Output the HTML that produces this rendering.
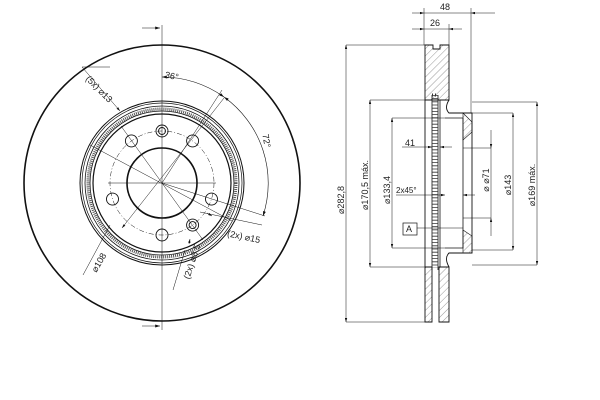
<!DOCTYPE html>
<html><head><meta charset="utf-8"><style>
html,body{margin:0;padding:0;background:#fff;width:600px;height:400px;overflow:hidden}
svg text{font-family:"Liberation Sans",sans-serif;fill:#222}
</style></head><body>
<svg width="600" height="400" viewBox="0 0 600 400" xmlns="http://www.w3.org/2000/svg">
<defs>
<pattern id="h" patternUnits="userSpaceOnUse" width="5" height="5" patternTransform="rotate(45)">
<line x1="0" y1="0" x2="0" y2="5" stroke="#555" stroke-width="0.6"/></pattern>
<marker id="a" viewBox="0 0 10 6" refX="10" refY="3" markerWidth="8" markerHeight="5" orient="auto-start-reverse"><path d="M0,0L10,3L0,6z" fill="#111"/></marker>
</defs>
<g fill="none" stroke="#111">
<!-- left disc -->
<circle cx="162" cy="183" r="138" stroke-width="1.6"/>
<circle cx="162" cy="183" r="82" stroke-width="1"/>
<circle cx="162" cy="183" r="80" stroke-width="0.7"/>
<circle cx="162" cy="183" r="77" stroke-width="0.8"/>
<circle cx="162" cy="183" r="74" stroke-width="3" stroke="#555" stroke-dasharray="1 1"/>
<circle cx="162" cy="183" r="72" stroke-width="0.8"/>
<circle cx="162" cy="183" r="69" stroke-width="1.2"/>
<circle cx="162" cy="183" r="35" stroke-width="1.6"/>
<circle cx="162" cy="183" r="52" stroke-width="0.5" stroke-dasharray="5 2 1 2"/>
<!-- bolt holes -->
<g stroke-width="0.9">
<circle cx="192.6" cy="140.9" r="6"/><circle cx="211.5" cy="199.1" r="6"/>
<circle cx="162" cy="235" r="6"/><circle cx="112.5" cy="199.1" r="6"/>
<circle cx="131.4" cy="140.9" r="6"/>
<circle cx="162" cy="131" r="6"/><circle cx="162" cy="131" r="3.5"/>
<circle cx="192.6" cy="225.1" r="6"/><circle cx="192.6" cy="225.1" r="3.5"/>
</g>
<!-- center lines -->
<g stroke-width="0.5">
<line x1="162" y1="25" x2="162" y2="330"/>
<line x1="108" y1="183" x2="216" y2="183"/>
<line x1="224" y1="98" x2="122" y2="228" marker-end="url(#a)"/>
<line x1="90" y1="145" x2="232" y2="221"/>
<line x1="162" y1="183" x2="265" y2="216"/>
<line x1="121" y1="126" x2="203" y2="240"/>
<line x1="82" y1="67" x2="110" y2="67"/>
<line x1="82" y1="67" x2="120" y2="111" marker-end="url(#a)"/>
<line x1="162" y1="183" x2="222" y2="90"/>
<line x1="200" y1="212" x2="262" y2="225"/>
<line x1="207" y1="213" x2="212" y2="216" marker-end="url(#a)"/>
<line x1="185" y1="250" x2="173" y2="290"/>
<line x1="190" y1="239" x2="189" y2="244" marker-start="url(#a)"/>
<line x1="110" y1="225" x2="83" y2="275"/>
</g>
<path d="M162 77 A106 106 0 0 1 224 97" stroke-width="0.6" marker-start="url(#a)" marker-end="url(#a)"/>
<path d="M224 97 A106 106 0 0 1 263 216" stroke-width="0.6" marker-start="url(#a)" marker-end="url(#a)"/>
<line x1="142" y1="28" x2="160" y2="28" stroke-width="0.6" marker-end="url(#a)"/>
<line x1="142" y1="326" x2="160" y2="326" stroke-width="0.6" marker-end="url(#a)"/>

<!-- section -->
<path d="M425 45 H433 V49 H440 V45 H449 V100 H425 Z" fill="url(#h)" stroke-width="0.9"/>
<path d="M425 267 H432 V322 H425 Z" fill="url(#h)" stroke-width="0.9"/>
<path d="M439 267 H449 V322 H439 Z" fill="url(#h)" stroke-width="0.9"/>
<path d="M449 100 Q444 108 449 113 H472 V253 H449 Q444 258 449 267" stroke-width="0.9"/>
<path d="M445 118 H463 V248 H445" stroke-width="0.8"/>
<path d="M463 113 L472 122 V132 L463 140 Z M463 230 L472 236 V253 H463 Z" fill="url(#h)" stroke-width="0.6"/>
<line x1="425" y1="100" x2="425" y2="267" stroke-width="0.9"/>
<line x1="432" y1="95" x2="432" y2="270" stroke-width="0.8"/>
<line x1="438" y1="95" x2="438" y2="270" stroke-width="0.8"/>
<line x1="440" y1="100" x2="440" y2="267" stroke-width="0.8"/>
<line x1="432" y1="95" x2="438" y2="95" stroke="#333" stroke-width="3" stroke-dasharray="1 2"/>
<line x1="435" y1="95" x2="435" y2="268" stroke="#333" stroke-width="6" stroke-dasharray="0.8 2.4"/>
<!-- top dims -->
<g stroke-width="0.5">
<line x1="424" y1="8" x2="424" y2="45"/><line x1="471" y1="8" x2="471" y2="113"/><line x1="449" y1="24" x2="449" y2="45"/>
<line x1="412" y1="13" x2="424" y2="13" marker-end="url(#a)"/><line x1="424" y1="13" x2="471" y2="13"/><line x1="495" y1="13" x2="471" y2="13" marker-end="url(#a)"/>
<line x1="412" y1="29" x2="424" y2="29" marker-end="url(#a)"/><line x1="424" y1="29" x2="449" y2="29"/><line x1="462" y1="29" x2="449" y2="29" marker-end="url(#a)"/>
<!-- vertical dims -->
<line x1="346" y1="45" x2="425" y2="45"/><line x1="346" y1="322" x2="425" y2="322"/>
<line x1="346" y1="45" x2="346" y2="322" marker-start="url(#a)" marker-end="url(#a)"/>
<line x1="370" y1="100" x2="425" y2="100"/><line x1="370" y1="267" x2="425" y2="267"/>
<line x1="370" y1="100" x2="370" y2="267" marker-start="url(#a)" marker-end="url(#a)"/>
<line x1="392" y1="118" x2="445" y2="118"/><line x1="392" y1="248" x2="445" y2="248"/>
<line x1="392" y1="118" x2="392" y2="248" marker-start="url(#a)" marker-end="url(#a)"/>
<line x1="402" y1="147" x2="432" y2="147" marker-end="url(#a)"/>
<line x1="452" y1="147" x2="440" y2="147" marker-end="url(#a)"/>
<line x1="396" y1="195" x2="445" y2="195" marker-end="url(#a)"/>
<line x1="475" y1="195" x2="463" y2="195" marker-end="url(#a)"/>
<line x1="417" y1="228" x2="463" y2="228"/>
<line x1="472" y1="102" x2="537" y2="102"/><line x1="472" y1="265" x2="537" y2="265"/>
<line x1="537" y1="102" x2="537" y2="265" marker-start="url(#a)" marker-end="url(#a)"/>
<line x1="472" y1="113" x2="513" y2="113"/><line x1="472" y1="250" x2="513" y2="250"/>
<line x1="513" y1="113" x2="513" y2="250" marker-start="url(#a)" marker-end="url(#a)"/>
<line x1="463" y1="148" x2="491" y2="148"/><line x1="463" y1="218" x2="491" y2="218"/>
<line x1="491" y1="130" x2="491" y2="148" marker-end="url(#a)"/>
<line x1="491" y1="236" x2="491" y2="218" marker-end="url(#a)"/>
<line x1="491" y1="148" x2="491" y2="218"/>
</g>
<rect x="403" y="223" width="14" height="12" stroke-width="0.7"/>
</g>
<g font-size="9">
<text x="165" y="79" transform="rotate(12 172 76)">36°</text>
<text x="262" y="141" transform="rotate(80 266 138)">72°</text>
<text x="84" y="88" transform="rotate(45 95 85)">(5x) ⌀13</text>
<text x="227" y="240" transform="rotate(12 245 237)">(2x) ⌀15</text>
<text x="175" y="290" transform="rotate(-72 175 275)">(2x) ⌀8.5</text>
<text x="82" y="272" transform="rotate(-60 90 260)">⌀108</text>
<text x="440" y="10">48</text>
<text x="430" y="26">26</text>
<text x="344" y="200" transform="rotate(-90 344 200)" text-anchor="middle">⌀282,8</text>
<text x="368" y="185" transform="rotate(-90 368 185)" text-anchor="middle">⌀170,5 máx.</text>
<text x="390" y="190" transform="rotate(-90 390 190)" text-anchor="middle">⌀133,4</text>
<text x="405" y="146">41</text>
<text x="396" y="193" font-size="8">2x45°</text>
<text x="406" y="232">A</text>
<text x="489" y="180" transform="rotate(-90 489 180)" text-anchor="middle">⌀ ⌀71</text>
<text x="511" y="185" transform="rotate(-90 511 185)" text-anchor="middle">⌀143</text>
<text x="535" y="185" transform="rotate(-90 535 185)" text-anchor="middle">⌀169 máx.</text>
</g>
</svg>
</body></html>
